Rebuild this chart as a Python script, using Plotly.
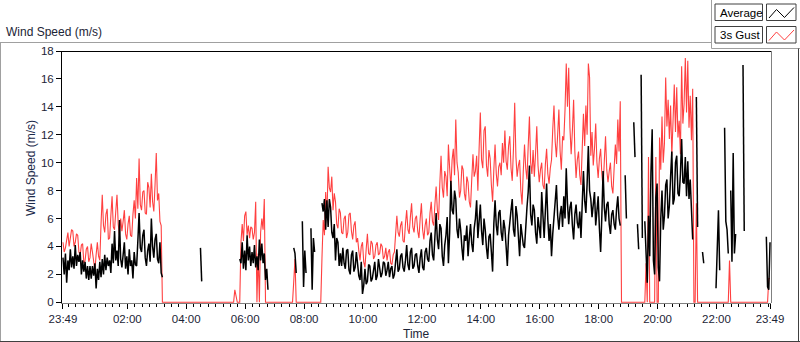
import plotly.graph_objects as go
import pandas as pd

N = None
# 2.5-minute samples; row r starts at 23:49 + r hours
avg_rows = [
    [3.2, 2.0, 3.5, 1.4, 3.0, 2.3, 3.8, 2.5, 3.3, 2.4, 4.1, 2.6, 3.4, 2.9, 3.6, 2.0, 3.0, 2.2, 2.9, 1.7, 2.6, 1.6, 2.6, 1.7],
    [2.6, 1.9, 2.8, 1.0, 2.4, 1.6, 2.9, 1.8, 3.1, 2.0, 3.4, 2.3, 3.2, 2.6, 3.0, 2.1, 4.2, 2.8, 5.1, 3.0, 3.7, 2.6, 5.9, 3.1],
    [2.5, 3.5, 4.3, 2.4, 3.3, 2.0, 3.8, 2.6, 3.0, 1.7, 3.6, 2.7, 2.6, 4.4, 6.4, 3.9, 3.6, 4.8, 5.2, 3.2, 2.6, 3.7, 4.2, 2.9],
    [6.0, 4.0, 3.2, 4.5, 4.9, 3.1, 2.8, 4.3, 2.1, 1.8, N, N, N, N, N, N, N, N, N, N, N, N, N, N],
    [N, N, N, N, N, N, N, N, N, N, N, N, N, N, N, N, 3.9, 1.5, N, N, N, N, N, N],
    [N, N, N, N, N, N, N, N, N, N, N, N, N, N, N, N, N, N, N, N, N, N, N, N],
    [3.1, 2.8, 4.3, 2.4, 3.7, 2.3, 4.8, 3.0, 4.0, 2.6, 3.6, 2.8, 4.1, 2.5, 3.3, 2.3, 4.5, 3.0, 4.2, 2.8, 3.5, 1.6, 2.4, 0.9],
    [N, N, N, N, N, N, N, N, N, N, N, N, N, N, N, N, N, N, N, N, 3.9, 3.5, 2.1, N],
    [N, N, N, 5.8, 1.1, 3.7, 2.1, N, N, N, 5.3, 0.9, 4.6, 3.6, N, N, N, N, N, 7.1, 6.5, 7.4, 5.2, 7.3],
    [5.4, 7.4, 6.8, 5.0, 4.6, 5.6, 3.0, 4.6, 4.3, 2.6, 3.5, 2.6, 3.9, 2.8, 2.4, 3.7, 3.8, 2.3, 2.0, 3.4, 3.7, 2.2, 2.5, 3.6],
    [2.8, 1.9, 1.6, 2.9, 0.6, 1.2, 2.4, 1.3, 1.5, 2.7, 2.6, 1.5, 1.7, 2.4, 2.9, 1.6, 1.9, 3.1, 2.6, 1.8, 2.1, 2.9, 2.8, 1.9],
    [2.3, 2.9, 1.8, 2.4, 2.6, 1.7, 2.0, 2.8, 3.8, 2.2, 2.4, 3.3, 3.5, 2.5, 2.2, 3.0, 4.1, 2.7, 2.3, 3.6, 3.9, 2.4, 2.6, 3.4],
    [3.5, 2.6, 2.1, 3.2, 3.8, 2.5, 2.3, 3.6, 3.9, 3.1, 2.9, 4.4, 5.0, 3.4, 3.0, 4.7, 6.4, 4.5, 3.8, 5.6, 5.3, 3.3, 2.6, 4.1],
    [4.8, 6.1, 2.8, 5.0, 8.7, 6.6, 6.3, 8.0, 7.4, 5.2, 4.6, 6.0, 5.2, 3.9, 3.0, 4.8, 4.4, 5.5, 3.3, 4.6, 5.6, 4.2, 3.6, 5.3],
    [6.0, 7.3, 4.6, 5.8, 7.0, 5.1, 4.1, 6.0, 5.2, 3.9, 3.1, 4.7, 4.9, 3.6, 2.2, 5.6, 7.3, 5.5, 4.8, 6.4, 6.6, 5.0, 4.4, 5.9],
    [5.3, 4.0, 2.6, 4.8, 5.5, 6.6, 7.4, 5.2, 4.7, 6.9, 6.2, 4.4, 3.3, 5.6, 5.0, 4.1, 3.9, 5.7, 6.8, 7.9, 9.8, 6.3, 5.5, 7.0],
    [6.6, 5.0, 4.2, 6.1, 5.5, 4.6, 7.9, 5.8, 4.6, 6.6, 8.5, 5.9, 4.4, 5.6, 3.3, 4.9, 6.0, 7.4, 8.4, 6.2, 5.2, 6.3, 6.9, 5.4],
    [7.6, 6.0, 9.6, 7.1, 5.6, 6.8, 7.2, 5.5, 4.5, 6.3, 7.0, 5.7, 5.3, 6.5, 4.6, 7.0, 9.4, 7.3, 6.4, 8.5, 11.2, 8.0, 7.4, 6.1],
    [6.8, 7.9, 5.5, 6.5, 7.6, 5.3, 3.6, 6.2, 9.4, 6.8, 5.8, 7.0, 7.2, 5.6, 4.9, 6.3, 6.6, 5.6, 5.2, 6.7, 7.6, 6.0, 5.5, N],
    [N, N, 9.1, 6.0, N, N, N, N, N, 12.9, 10.4, N, 5.6, 3.8, N, 16.3, 4.6, N, 5.8, 3.8, 1.4, 6.2, 3.3, 9.3],
    [12.4, 3.0, 2.0, 7.5, 8.5, 2.5, 1.5, 6.0, 8.0, 5.2, 6.2, 8.4, 8.8, 6.0, 6.9, 9.0, 10.8, 7.0, 7.4, 10.0, 10.5, 7.8, 7.6, 9.2],
    [11.7, 8.6, 8.5, 10.4, 7.6, 10.1, 7.4, 8.8, 6.3, 4.5, N, N, 14.7, 5.4, N, N, N, 3.6, 2.8, N, N, N, N, N],
    [N, N, N, N, 1.0, 3.9, 6.6, 2.3, N, N, N, 12.5, 5.8, 5.2, 3.5, N, 8.0, 2.9, 10.7, 3.5, 4.9, N, N, N],
    [N, N, 17.0, 5.1, N, N, N, N, N, N, N, N, N, N, N, N, N, N, N, N, N, 4.7, 1.1, 0.9, 4.3],
]
gust_rows = [
    [4.3, 3.6, 3.9, 4.4, 5.0, 4.0, 4.6, 5.2, 5.1, 4.0, 4.3, 4.9, 4.8, 3.6, 3.4, 4.1, 4.2, 2.8, 3.0, 3.8, 4.0, 2.9, 3.2, 4.2],
    [3.6, 2.8, 2.3, 3.4, 4.3, 3.3, 3.0, 5.6, 7.7, 5.5, 5.0, 6.3, 6.7, 4.5, 4.6, 6.2, 7.6, 5.4, 5.2, 6.5, 7.7, 5.6, 4.8, 6.0],
    [5.1, 5.8, 6.6, 4.9, 4.5, 5.6, 6.2, 4.8, 4.7, 6.3, 7.3, 6.0, 8.9, 6.7, 10.3, 7.0, 6.6, 7.9, 8.0, 6.4, 6.3, 8.6, 8.2, 6.8],
    [9.2, 7.2, 6.5, 8.4, 10.7, 7.3, 7.8, 5.8, 5.5, 0, 0, 0, 0, 0, 0, 0, 0, 0, 0, 0, 0, 0, 0, 0],
    [0, 0, 0, 0, 0, 0, 0, 0, 0, 0, 0, 0, 0, 0, 0, 0, 0, 0, 0, 0, 0, 0, 0, 0],
    [0, 0, 0, 0, 0, 0, 0, 0, 0, 0, 0, 0, 0, 0, 0, 0, 0, 0, 0, 0, 0.9, 0.4, 0, 0],
    [0, 4.3, 5.6, 4.4, 6.2, 6.5, 4.8, 5.5, 4.6, 5.4, 5.3, 4.5, 5.0, 7.2, 0, 3.5, 0, 5.0, 6.0, 5.2, 7.4, 0, 0, 0],
    [0, 0, 0, 0, 0, 0, 0, 0, 0, 0, 0, 0, 0, 0, 0, 0, 0, 0, 0, 0, 1.5, 3.1, 0, 0],
    [0, 0, 0, 0, 0, 0, 0, 0, 0, 0, 0, 0, 0, 0, 0, 0, 0, 0, 0, 3.2, 5.9, 4.8, 7.9, 6.0],
    [9.7, 8.2, 7.9, 9.0, 6.6, 7.8, 7.2, 5.6, 5.3, 6.7, 6.4, 5.0, 4.9, 6.0, 6.2, 4.6, 5.0, 6.3, 6.4, 5.1, 4.5, 5.5, 5.8, 4.3],
    [4.6, 3.7, 3.0, 4.0, 4.3, 2.9, 2.5, 3.8, 4.9, 3.5, 3.4, 4.4, 4.2, 3.1, 3.3, 4.1, 4.3, 3.4, 3.5, 4.2, 4.0, 3.1, 3.3, 3.9],
    [3.0, 3.6, 3.8, 2.8, 2.7, 3.4, 3.6, 4.9, 6.2, 5.0, 4.7, 5.5, 5.8, 4.4, 4.3, 5.6, 6.6, 5.2, 4.9, 6.1, 7.1, 5.4, 5.0, 6.0],
    [6.2, 5.1, 4.6, 6.0, 7.1, 5.2, 4.5, 5.5, 6.0, 4.8, 5.0, 6.4, 7.2, 5.8, 5.5, 7.0, 8.3, 6.6, 5.9, 8.5, 10.5, 8.2, 7.5, 9.4],
    [9.0, 7.6, 11.3, 9.6, 8.2, 10.2, 11.0, 9.1, 13.1, 10.0, 9.3, 7.5, 8.0, 9.8, 9.5, 7.8, 7.3, 9.0, 8.6, 7.2, 6.8, 8.8, 10.6, 9.0],
    [9.4, 10.5, 8.0, 11.0, 13.6, 10.2, 9.6, 12.3, 12.6, 9.8, 9.0, 10.9, 10.3, 8.4, 7.2, 9.5, 11.3, 9.2, 8.3, 9.7, 10.0, 9.1, 11.4, 10.0],
    [12.3, 10.1, 9.5, 11.2, 11.9, 9.6, 8.7, 11.0, 14.3, 10.4, 9.0, 9.8, 10.2, 8.0, 7.0, 9.4, 11.3, 9.6, 8.8, 11.2, 13.3, 10.0, 9.2, 10.9],
    [9.0, 10.7, 12.6, 9.8, 8.6, 9.5, 10.0, 8.4, 8.1, 9.9, 11.0, 9.2, 8.5, 9.6, 10.2, 12.4, 14.1, 11.5, 10.4, 12.0, 13.8, 10.8, 9.5, 11.9],
    [11.6, 13.8, 17.1, 14.0, 16.8, 12.5, 10.6, 12.3, 14.5, 10.8, 8.9, 10.2, 10.8, 9.1, 8.4, 11.0, 13.5, 11.2, 14.1, 12.0, 17.1, 16.1, 10.5, 12.2],
    [9.8, 11.0, 12.8, 10.0, 8.9, 10.3, 11.0, 9.2, 8.2, 10.1, 11.9, 9.5, 8.6, 9.4, 10.0, 8.3, 7.8, 9.6, 11.3, 9.9, 13.1, 10.8, 14.4, 0],
    [0, 0, 0, 0, 0, 0, 0, 0, 0, 0, 0, 0, 0, 0, 0, 0, 0, 0, 0, 2.8, 0, 10.4, 0, 0],
    [0, 0, 0, 10.4, 0, 0, 11.8, 9.5, 13.3, 10.0, 11.4, 16.1, 12.6, 14.5, 11.7, 14.1, 10.5, 13.0, 15.6, 12.2, 15.4, 11.8, 13.0, 10.6],
    [16.9, 12.8, 14.2, 17.5, 13.6, 17.3, 12.5, 14.8, 11.6, 15.3, 0, 0, 7.1, 0, 0, 0, 0, 0, 0, 0, 0, 0, 0, 0],
    [0, 0, 0, 0, 0, 0, 0, 0, 0, 0, 0, 0, 0, 0, 0, 3.0, 0, 0, 0, 0, 0, 0, 0, 0],
    [0, 0, 0, 0, 0, 0, 0, 0, 0, 0, 0, 0, 0, 0, 0, 0, 0, 0, 0, 0, 0, 0, 0, 1.7, 1.7],
]
tick_times = ["2024-01-01 23:49", "2024-01-02 02:00", "2024-01-02 04:00",
              "2024-01-02 06:00", "2024-01-02 08:00", "2024-01-02 10:00",
              "2024-01-02 12:00", "2024-01-02 14:00", "2024-01-02 16:00",
              "2024-01-02 18:00", "2024-01-02 20:00", "2024-01-02 22:00",
              "2024-01-02 23:49"]
tick_labels = ["23:49", "02:00", "04:00", "06:00", "08:00", "10:00", "12:00",
               "14:00", "16:00", "18:00", "20:00", "22:00", "23:49"]
y_ticks = [0, 2, 4, 6, 8, 10, 12, 14, 16, 18]

start = pd.Timestamp("2024-01-01 23:49")


def flatten(rows):
    xs, ys = [], []
    for r, row in enumerate(rows):
        for k, v in enumerate(row):
            xs.append(start + pd.Timedelta(hours=r) + pd.Timedelta(seconds=150 * k))
            ys.append(v)
    return xs, ys


t_avg, avg = flatten(avg_rows)
t_gust, gust = flatten(gust_rows)

# plot area in pixels
PL, PR, PT, PB = 62, 771, 51, 303
W, H = 800, 342


def px(x):
    return (x - PL) / (PR - PL)


def py(y):
    return (PB - y) / (PB - PT)


fig = go.Figure()
fig.add_trace(go.Scatter(x=t_gust, y=gust, mode="lines", name="3s Gust",
                         line=dict(color="#FF4040", width=1.1), showlegend=False))
fig.add_trace(go.Scatter(x=t_avg, y=avg, mode="lines", name="Average",
                         line=dict(color="#000000", width=1.5), showlegend=False))

shapes = []


def hline(x0, x1, y, color, w=1):
    shapes.append(dict(type="line", xref="paper", yref="paper", x0=px(x0), x1=px(x1),
                       y0=py(y), y1=py(y), line=dict(color=color, width=w)))


def vline(x, y0, y1, color, w=1):
    shapes.append(dict(type="line", xref="paper", yref="paper", x0=px(x), x1=px(x),
                       y0=py(y0), y1=py(y1), line=dict(color=color, width=w)))


def rect(x0, y0, x1, y1, color):
    shapes.append(dict(type="rect", xref="paper", yref="paper", x0=px(x0), x1=px(x1),
                       y0=py(y0), y1=py(y1), line=dict(color=color, width=1),
                       fillcolor="white"))


def zig(pts, color):
    d = "M " + " L ".join(f"{px(a):.5f},{py(b):.5f}" for a, b in pts)
    shapes.append(dict(type="path", xref="paper", yref="paper", path=d,
                       line=dict(color=color, width=1)))


# outer frame
hline(0, 711.5, 42.5, "#a0a0a0")
vline(0.5, 42.5, 342, "#a0a0a0")
vline(711.5, 0, 48.5, "#a0a0a0")
hline(711.5, 800, 48.5, "#a0a0a0")
vline(798.5, 48.5, 342, "#404040")
hline(0, 800, 341.5, "#404040")
# plot border
hline(62, 771.5, 51.5, "#000000")
vline(771.5, 51.5, 303, "#808080")
# legend boxes
rect(715, 4, 762.5, 20.5, "#404040")
rect(766.5, 4, 796, 20.5, "#404040")
rect(715, 26.5, 762.5, 43, "#404040")
rect(766.5, 26.5, 796, 43, "#404040")
zig([(769, 18), (776.5, 9.5), (784.5, 17.5), (794, 7.5)], "#000000")
zig([(769, 40.5), (776.5, 32), (784.5, 40), (794, 30)], "#FF4040")

font = "Liberation Sans, Arial, sans-serif"
ann = [
    dict(text="Wind Speed (m/s)", x=px(4), y=py(32), xanchor="left", yanchor="middle",
         font=dict(size=12, color="#1c2436")),
    dict(text="Average", x=px(717.5), y=py(12.5), xanchor="left", yanchor="middle",
         font=dict(size=11.5, color="#000000")),
    dict(text="3s Gust", x=px(717.5), y=py(35), xanchor="left", yanchor="middle",
         font=dict(size=11.5, color="#000000")),
    dict(text="Wind Speed (m/s)", x=px(31), y=py(168), textangle=-90,
         xanchor="center", yanchor="middle", font=dict(size=12, color="#1c2a4a")),
    dict(text="Time", x=px(416), y=py(334), xanchor="center", yanchor="middle",
         font=dict(size=12, color="#1c2436")),
]
for a in ann:
    a.update(xref="paper", yref="paper", showarrow=False)

fig.update_layout(
    width=W, height=H,
    margin=dict(l=PL, r=W - PR, t=PT, b=H - PB, pad=0),
    paper_bgcolor="white", plot_bgcolor="white",
    font=dict(family=font, size=11, color="#000000"),
    shapes=shapes, annotations=ann, showlegend=False,
    xaxis=dict(type="date",
               range=[start - pd.Timedelta(minutes=2),
                      start + pd.Timedelta(hours=24, minutes=2)],
               tickmode="array", tickvals=tick_times, ticktext=tick_labels,
               ticks="outside", ticklen=5, tickcolor="#000000",
               showline=True, linecolor="#808080", linewidth=1,
               showgrid=False, zeroline=False,
               tickfont=dict(size=11.5, color="#1c2436"),
               minor=dict(ticks="outside", ticklen=3, tickcolor="#000000",
                          dtick=15 * 60 * 1000, tick0="2024-01-02 00:00",
                          showgrid=False)),
    yaxis=dict(range=[-0.05, 18.0], tickmode="array", tickvals=y_ticks,
               ticks="outside", ticklen=5, tickcolor="#000000",
               showline=True, linecolor="#000000", linewidth=1,
               showgrid=False, zeroline=False,
               tickfont=dict(size=11.5, color="#1c2436")),
)

fig.write_html("out.html", config={"displayModeBar": False},
               post_script="document.body.style.margin='0px';"
               "document.body.style.overflow='hidden';")
